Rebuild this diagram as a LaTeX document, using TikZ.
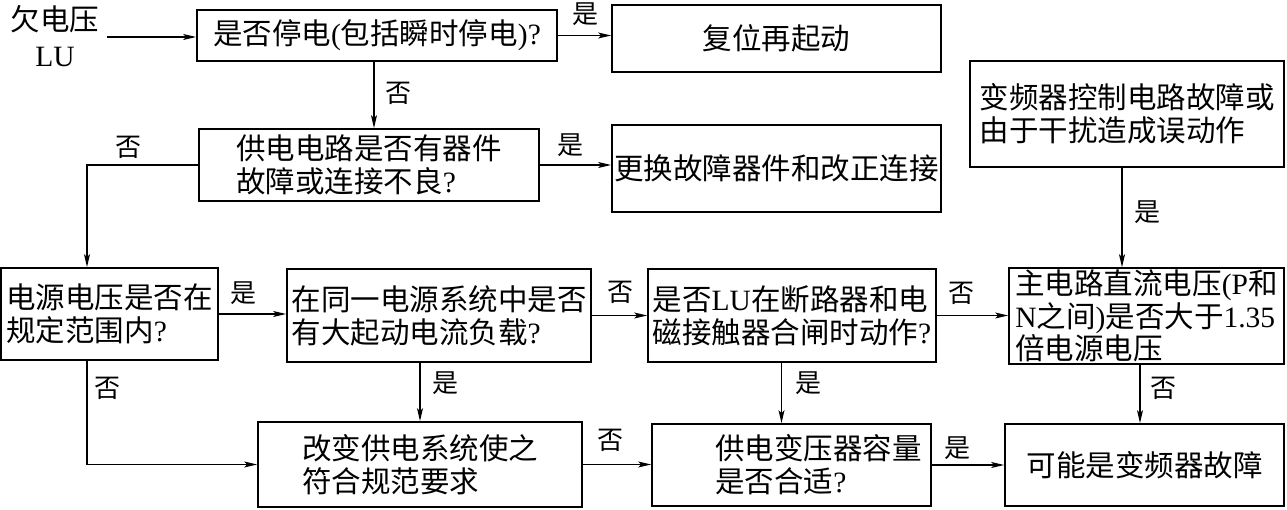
\documentclass[tikz,border=0pt]{standalone}
\usepackage{fontspec}
\setmainfont{Liberation Serif}
\newfontfamily\cjk{Noto Sans CJK SC}
\newcommand\latn[1]{{\rmfamily #1}}
\usetikzlibrary{arrows.meta}
\tikzset{
  box/.style={draw, line width=1.8pt, inner sep=2pt, align=left,
    font=\cjk\fontsize{29.5}{33}\selectfont},
  lbl/.style={inner sep=0pt, font=\cjk\fontsize{26}{26}\selectfont},
  arr/.style={line width=1.2pt, -{Stealth[length=13pt,width=6pt,inset=3pt]}},
  ln/.style={line width=1.2pt}
}
\begin{document}
\begin{tikzpicture}[x=1pt,y=-1pt]
\useasboundingbox (0,0) rectangle (1287,510);
% start text
\node[inner sep=0pt, align=center, font=\cjk\fontsize{29.5}{36}\selectfont] (lu) at (55,36) {欠电压\\\latn{LU}};
\coordinate (s) at (107,37);
% boxes
\node[box, minimum width=360pt, minimum height=51pt] (b1) at (377,35.5) {是否停电\latn{(}包括瞬时停电\latn{)?}};
\node[box, minimum width=329pt, minimum height=67pt, align=center] (b2) at (776.5,38.5) {复位再起动};
\node[box, minimum width=340pt, minimum height=72pt] (b3) at (369,165) {供电电路是否有器件\\故障或连接不良\latn{?}};
\node[box, minimum width=329pt, minimum height=87pt, align=center] (b4) at (776.5,168.5) {更换故障器件和改正连接};
\node[box, minimum width=314pt, minimum height=106pt] (bk) at (1127,114) {变频器控制电路故障或\\由于干扰造成误动作};
\node[box, minimum width=217pt, minimum height=92pt] (b5) at (109.5,314) {电源电压是否在\\规定范围内\latn{?}};
\node[box, minimum width=304pt, minimum height=93pt] (b6) at (439,315.5) {在同一电源系统中是否\\有大起动电流负载\latn{?}};
\node[box, minimum width=288pt, minimum height=93pt] (b7) at (792,315.5) {是否\latn{LU}在断路器和电\\磁接触器合闸时动作\latn{?}};
\node[box, minimum width=275pt, minimum height=94pt, font=\cjk\fontsize{29.5}{31}\selectfont] (b8) at (1146.5,316) {主电路直流电压\latn{(P}和\\\latn{N}之间\latn{)}是否大于\latn{1.35}\\倍电源电压};
\node[box, minimum width=324pt, minimum height=85pt] (b9) at (420,464.5) {改变供电系统使之\\符合规范要求};
\node[box, minimum width=279pt, minimum height=82pt] (b10) at (791.5,465) {\hspace*{54pt}供电变压器容量\\\hspace*{54pt}是否合适\latn{?}};
\node[box, minimum width=279pt, minimum height=82pt, align=center] (b11) at (1144.5,465) {可能是变频器故障};
% connectors
\draw[arr] (s) -- (s -| b1.west);
\draw[arr] (b1.east) -- (b1.east -| b2.west);
\draw[arr] ([xshift=-3pt]b1.south) -- ([xshift=-3pt]b1.south |- b3.north);
\draw[arr] (b3.east) -- (b3.east -| b4.west);
\draw[arr] (b3.west) -| ([xshift=-22.5pt]b5.north);
\draw[arr] ([xshift=-5pt]bk.south) -- ([xshift=-5pt]bk.south |- b8.north);
\draw[arr] (b5.east) -- (b5.east -| b6.west);
\draw[arr] (b6.east) -- (b6.east -| b7.west);
\draw[arr] (b7.east) -- (b7.east -| b8.west);
\draw[arr] ([xshift=-22.5pt]b5.south) |- (b9.west);
\draw[arr] (b6.south -| b9.north) -- (b9.north);
\draw[arr] ([xshift=-10pt]b10.north |- b7.south) -- ([xshift=-10pt]b10.north);
\draw[arr] ([xshift=-4.5pt]b11.north |- b8.south) -- ([xshift=-4.5pt]b11.north);
\draw[arr] (b9.east) -- (b9.east -| b10.west);
\draw[arr] (b10.east) -- (b10.east -| b11.west);
% labels
\node[lbl] (l1) at (585,14) {是};
\node[lbl] (l2) at (398,93) {否};
\node[lbl] (l3) at (128,147) {否};
\node[lbl] (l4) at (570,145) {是};
\node[lbl] (l5) at (1147,212) {是};
\node[lbl] (l6) at (243,293) {是};
\node[lbl] (l7) at (620,292) {否};
\node[lbl] (l8) at (961,293) {否};
\node[lbl] (l9) at (107,388) {否};
\node[lbl] (l10) at (445,383) {是};
\node[lbl] (l11) at (808,383) {是};
\node[lbl] (l12) at (1163,388) {否};
\node[lbl] (l13) at (610,440) {否};
\node[lbl] (l14) at (957,448) {是};
\end{tikzpicture}
\end{document}
